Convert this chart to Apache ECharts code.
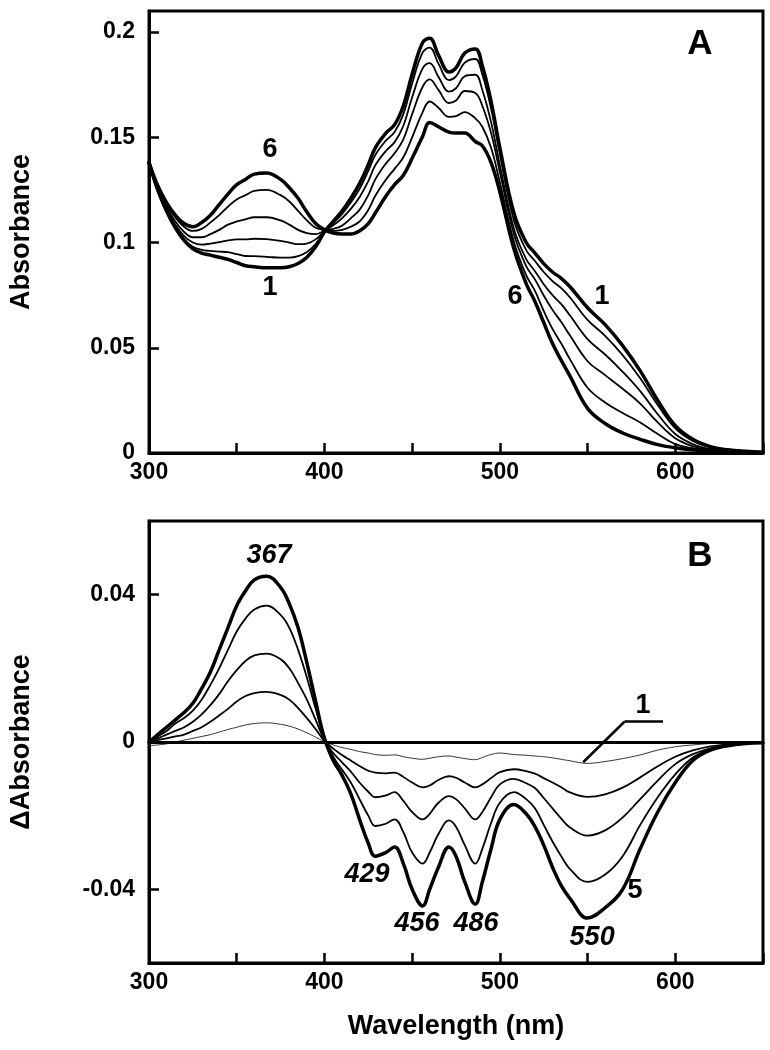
<!DOCTYPE html>
<html><head><meta charset="utf-8">
<script src="https://cdn.jsdelivr.net/npm/echarts@6/dist/echarts.min.js"></script>
<style>html,body{margin:0;padding:0;background:#fff}#c{width:770px;height:1050px}</style>
</head><body><div id="c"></div>
<script>
// ---- data ----
const wavelengths = [300,305,310,315,320,325,330,335,340,345,350,355,360,367,375,380,385,390,395,400,405,410,415,420,425,429,435,440,445,450,456,460,465,471,475,480,486,490,495,500,508,515,520,525,530,535,540,550,560,570,580,590,600,610,620,630,640,650];

// Panel A: absorbance spectra 1..6
const absorbance1 = [0.138,0.125,0.115,0.107,0.101,0.097,0.095,0.094,0.093,0.092,0.0905,0.089,0.0885,0.088,0.088,0.0885,0.090,0.093,0.098,0.105,0.110,0.115,0.121,0.128,0.137,0.145,0.152,0.156,0.165,0.180,0.195,0.197,0.189,0.181,0.183,0.190,0.192,0.184,0.167,0.145,0.114,0.100,0.095,0.090,0.086,0.083,0.079,0.069,0.061,0.051,0.039,0.025,0.013,0.0065,0.003,0.0015,0.0008,0.0004];
const absorbance2 = [0.137,0.1242,0.1145,0.107,0.1015,0.098,0.0965,0.096,0.0957,0.0954,0.0945,0.0936,0.0935,0.0932,0.0928,0.0928,0.0935,0.0955,0.0993,0.1051,0.1092,0.1135,0.119,0.1254,0.134,0.1416,0.1484,0.1525,0.161,0.1756,0.1903,0.1926,0.185,0.1772,0.1789,0.1855,0.1872,0.1798,0.1636,0.142,0.1106,0.0964,0.0912,0.086,0.0817,0.0783,0.0739,0.0632,0.0557,0.0465,0.0355,0.0228,0.0117,0.0057,0.0026,0.0013,0.0007,0.0004];
const absorbance3 = [0.138,0.1255,0.116,0.1085,0.103,0.100,0.099,0.0995,0.1002,0.101,0.1015,0.1015,0.1018,0.1016,0.1008,0.100,0.0992,0.0995,0.1015,0.1053,0.1082,0.1115,0.116,0.1215,0.1292,0.1367,0.1435,0.1477,0.1555,0.169,0.1827,0.1852,0.1787,0.1717,0.1733,0.179,0.1797,0.1725,0.1572,0.1368,0.1066,0.0921,0.0864,0.0802,0.075,0.0707,0.0653,0.0541,0.0468,0.0386,0.0294,0.0184,0.009,0.0042,0.0018,0.0009,0.0006,0.0004];
const absorbance4 = [0.138,0.126,0.117,0.110,0.105,0.1025,0.1025,0.104,0.106,0.1085,0.110,0.111,0.112,0.112,0.1105,0.1085,0.106,0.1045,0.104,0.1055,0.1065,0.108,0.1115,0.1155,0.1225,0.130,0.1375,0.1424,0.149,0.161,0.174,0.1775,0.1725,0.1663,0.1675,0.172,0.171,0.165,0.152,0.1335,0.104,0.0888,0.0825,0.0748,0.068,0.0622,0.0558,0.0436,0.037,0.0305,0.0235,0.0145,0.007,0.0032,0.0013,0.0007,0.0005,0.0003];
const absorbance5 = [0.138,0.1265,0.118,0.112,0.1075,0.1055,0.1065,0.1095,0.113,0.117,0.1205,0.1225,0.1245,0.125,0.1225,0.1195,0.115,0.1105,0.107,0.106,0.1055,0.106,0.1075,0.110,0.1155,0.1222,0.1298,0.135,0.1405,0.150,0.162,0.167,0.164,0.1597,0.160,0.162,0.159,0.155,0.145,0.1285,0.1004,0.0845,0.077,0.0675,0.059,0.052,0.0445,0.031,0.024,0.019,0.0145,0.009,0.0042,0.0023,0.0011,0.0006,0.0005,0.0003];
const absorbance6 = [0.138,0.127,0.119,0.113,0.109,0.1075,0.1095,0.113,0.118,0.123,0.1275,0.130,0.1325,0.133,0.130,0.126,0.121,0.1145,0.109,0.106,0.1045,0.104,0.104,0.1055,0.109,0.114,0.122,0.1275,0.132,0.140,0.1505,0.157,0.155,0.1525,0.152,0.152,0.148,0.146,0.138,0.124,0.097,0.0805,0.072,0.062,0.052,0.044,0.0365,0.0212,0.014,0.0095,0.0065,0.004,0.0025,0.0015,0.001,0.0006,0.0004,0.0002];

// Panel B: difference spectra 1..5
const deltaAbs1 = [-0.001,-0.0008,-0.0005,0.000,0.0005,0.001,0.0015,0.002,0.0027,0.0034,0.004,0.0046,0.005,0.0052,0.0048,0.0043,0.0035,0.0025,0.0013,0.0001,-0.0008,-0.0015,-0.002,-0.0026,-0.003,-0.0034,-0.0036,-0.0035,-0.004,-0.0044,-0.0047,-0.0044,-0.004,-0.0038,-0.0041,-0.0045,-0.0048,-0.0042,-0.0034,-0.003,-0.0034,-0.0036,-0.0038,-0.004,-0.0043,-0.0047,-0.0051,-0.0058,-0.0053,-0.0045,-0.0035,-0.0022,-0.0013,-0.0008,-0.0004,-0.0002,-0.0001,0.000];
const deltaAbs2 = [0.000,0.0005,0.001,0.0015,0.002,0.003,0.004,0.0055,0.0072,0.009,0.011,0.0125,0.0133,0.0136,0.0128,0.0115,0.0092,0.0065,0.0035,0.0003,-0.0018,-0.0035,-0.005,-0.0065,-0.0078,-0.0083,-0.0085,-0.0083,-0.0095,-0.011,-0.0123,-0.0118,-0.0103,-0.0093,-0.0097,-0.011,-0.0123,-0.0115,-0.0098,-0.0082,-0.0074,-0.0079,-0.0086,-0.0098,-0.011,-0.0123,-0.0137,-0.0149,-0.0142,-0.0124,-0.0096,-0.0066,-0.004,-0.0023,-0.0012,-0.0006,-0.0002,0.000];
const deltaAbs3 = [0.000,0.001,0.002,0.003,0.004,0.0055,0.0075,0.010,0.013,0.0165,0.0195,0.022,0.0235,0.024,0.0225,0.020,0.016,0.0115,0.006,0.0005,-0.003,-0.0055,-0.008,-0.011,-0.0135,-0.015,-0.0145,-0.0136,-0.016,-0.019,-0.021,-0.0195,-0.0165,-0.0147,-0.0155,-0.018,-0.021,-0.019,-0.015,-0.0115,-0.010,-0.0112,-0.0125,-0.0152,-0.018,-0.0208,-0.0232,-0.0254,-0.024,-0.0205,-0.0155,-0.0105,-0.006,-0.0033,-0.0017,-0.0008,-0.0003,-0.0001];
const deltaAbs4 = [0.000,0.0015,0.003,0.005,0.0065,0.0085,0.0115,0.0155,0.020,0.025,0.030,0.0335,0.036,0.037,0.0345,0.031,0.025,0.0175,0.009,0.001,-0.004,-0.0075,-0.011,-0.0155,-0.020,-0.0228,-0.0222,-0.021,-0.0245,-0.030,-0.033,-0.030,-0.025,-0.0213,-0.023,-0.028,-0.033,-0.029,-0.022,-0.0165,-0.0136,-0.0155,-0.018,-0.0225,-0.027,-0.031,-0.0345,-0.038,-0.036,-0.031,-0.0225,-0.015,-0.0088,-0.0042,-0.0019,-0.0009,-0.0003,-0.0001];
const deltaAbs5 = [0.000,0.002,0.004,0.006,0.008,0.0105,0.0145,0.019,0.025,0.031,0.037,0.041,0.044,0.045,0.042,0.0375,0.031,0.0215,0.011,0.001,-0.005,-0.009,-0.014,-0.021,-0.0275,-0.031,-0.030,-0.0285,-0.033,-0.040,-0.0445,-0.040,-0.034,-0.0285,-0.031,-0.038,-0.044,-0.038,-0.029,-0.021,-0.017,-0.0195,-0.023,-0.028,-0.034,-0.039,-0.0425,-0.0478,-0.045,-0.040,-0.029,-0.019,-0.011,-0.005,-0.0022,-0.001,-0.0004,-0.0002];

// tick labels
const xTickLabels = [300,400,500,600];
const yTicksA = [0,0.05,0.1,0.15,0.2];
const yTicksB = [-0.04,0,0.04];

// ---- chart ----
const FONT = "'Liberation Sans', Arial, Helvetica, sans-serif";
const pair = arr => wavelengths.map((w,i)=>[w,arr[i]]);
const txt = (size, extra) => Object.assign({color:'#000', fontFamily:FONT, fontWeight:'bold', fontSize:size}, extra||{});

function xAxis(gi, name){
  return {type:'value', gridIndex:gi, min:300, max:650, interval:50,
    axisLine:{show:true, onZero:false, lineStyle:{color:'#000', width:3}},
    axisTick:{show:true, inside:true, length:10, lineStyle:{color:'#000', width:2.5}},
    axisLabel:Object.assign({customValues:xTickLabels, margin:8}, txt(23)),
    splitLine:{show:false},
    name:name||'', nameLocation:'middle', nameGap:50, nameTextStyle:txt(27)};
}
function yAxis(gi, min, max, ticks, name){
  return {type:'value', gridIndex:gi, min:min, max:max,
    axisLine:{show:true, onZero:false, lineStyle:{color:'#000', width:3}},
    axisTick:{show:true, inside:true, length:10, customValues:ticks, lineStyle:{color:'#000', width:2.5}},
    axisLabel:Object.assign({customValues:ticks, margin:14}, txt(23)),
    splitLine:{show:false},
    name:name, nameLocation:'middle', nameGap:114, nameTextStyle:txt(27)};
}
function line(gi, arr, w, color){
  return {type:'line', xAxisIndex:gi, yAxisIndex:gi, data:pair(arr), showSymbol:false, symbol:'none',
    smooth:0.4, silent:true,
    lineStyle:{color:color||'#000', width:w, join:'round', cap:'round'}};
}
function labels(items){
  return {symbol:'circle', symbolSize:0, silent:true,
    label:Object.assign({show:true, position:'inside', formatter:p=>p.name}, txt(27)),
    data:items};
}

const sA1 = line(0, absorbance1, 3.5);
sA1.markPoint = labels([
  {name:'6', coord:[369,0.144]},
  {name:'1', coord:[369,0.0784]},
  {name:'6', coord:[508.7,0.0741]},
  {name:'1', coord:[558.3,0.0741]},
  {name:'A', coord:[614,0.194], label:{fontSize:35}}
]);
const it = {fontStyle:'italic'};
const sB5 = line(1, deltaAbs5, 3.5);
sB5.markPoint = labels([
  {name:'367', coord:[368.4,0.0505], label:it},
  {name:'429', coord:[424.3,-0.0359], label:it},
  {name:'456', coord:[452.8,-0.0492], label:it},
  {name:'486', coord:[486.4,-0.0492], label:it},
  {name:'550', coord:[552.6,-0.0532], label:it},
  {name:'5', coord:[577,-0.0402]},
  {name:'1', coord:[581.6,0.0098]},
  {name:'B', coord:[614,0.0505], label:{fontSize:35}}
]);
sB5.markLine = {symbol:'none', silent:true, label:{show:false},
  lineStyle:{color:'#000', width:3, type:'solid'},
  data:[{yAxis:0},
    [{coord:[547.5,-0.0055], lineStyle:{width:2.5}},{coord:[571,0.0055]}],
    [{coord:[571,0.0055], lineStyle:{width:2.5}},{coord:[593,0.0055]}]]};

const option = {
  animation:false,
  backgroundColor:'#fff',
  grid:[
    {left:149, top:11, width:614, height:442, show:true, borderColor:'#000', borderWidth:3, backgroundColor:'transparent'},
    {left:149, top:521, width:614, height:442, show:true, borderColor:'#000', borderWidth:3, backgroundColor:'transparent'}
  ],
  xAxis:[xAxis(0), xAxis(1,'Wavelength (nm)')],
  yAxis:[yAxis(0,0,0.21,yTicksA,'Absorbance'), yAxis(1,-0.06,0.06,yTicksB,'\u0394Absorbance')],
  series:[
    sA1,
    line(0, absorbance2, 1.8),
    line(0, absorbance3, 1.8),
    line(0, absorbance4, 1.8),
    line(0, absorbance5, 1.8),
    line(0, absorbance6, 3.5),
    line(1, deltaAbs1, 1, '#333'),
    line(1, deltaAbs2, 1.8),
    line(1, deltaAbs3, 1.8),
    line(1, deltaAbs4, 1.8),
    sB5
  ]
};
const chart = echarts.init(document.getElementById('c'), null, {renderer:'canvas'});
chart.setOption(option);
</script>
</body></html>
